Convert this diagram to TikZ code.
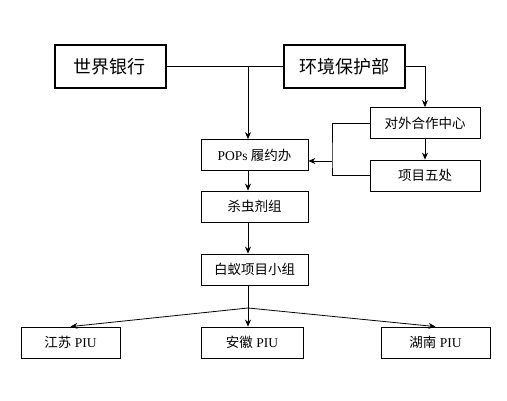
\documentclass[tikz,border=0pt]{standalone}
\usepackage{fontspec}
\setmainfont{Liberation Serif}
\newfontfamily\cjk{Noto Sans CJK SC}
\usetikzlibrary{arrows.meta}

\begin{document}
\begin{tikzpicture}[x=1pt,y=-1pt,>={Stealth[length=7pt,width=6pt]},line width=0.8pt,
  bigbox/.style={draw,line width=2pt,minimum height=43pt,inner sep=0pt,font=\fontsize{18}{20}\selectfont},
  unit/.style={draw,line width=0.8pt,minimum height=31pt,inner sep=0pt,font=\fontsize{13.5}{15}\selectfont}]
  \useasboundingbox (0,0) rectangle (507,401);

  % 顶层
  \node[bigbox,minimum width=111pt] (wb) at (110,66.5) {\cjk 世界银行};
  \node[bigbox,minimum width=121pt] (env) at (344,66.5) {\cjk 环境保护部};

  % 右侧两个单位
  \node[unit,minimum width=110pt] (coop) at (425,123) {\cjk 对外合作中心};
  \node[unit,minimum width=110pt] (proj) at (425,175.5) {\cjk 项目五处};

  % 中间一列
  \node[unit,minimum width=107pt] (pops) at (254.5,155) {POPs {\cjk 履约办}};
  \node[unit,minimum width=107pt] (pest) at (254.5,206.5) {\cjk 杀虫剂组};
  \node[unit,minimum width=107pt] (termite) at (254.5,269.5) {\cjk 白蚁项目小组};

  % 三个省
  \node[unit,minimum width=99pt] (js) at (70.5,342.5) {{\cjk 江苏} PIU};
  \node[unit,minimum width=102pt] (ah) at (252,342.5) {{\cjk 安徽} PIU};
  \node[unit,minimum width=109pt] (hn) at (435.5,342.5) {{\cjk 湖南} PIU};

  \coordinate (top) at (248,66.5);
  \coordinate (brk) at (332,161);
  \coordinate (fan) at (248,308);

  \draw (wb.east) -- (env.west);
  \draw[->] (top) -- (top |- pops.north);
  \draw[->] (env.east) -| (coop.north);
  \draw[->] (coop) -- (proj);
  \draw (coop.west) -| (brk) |- (proj.west);
  \draw[->] (brk) -- (pops.east |- brk);
  \draw[->] (pops.south -| top) -- (pest.north -| top);
  \draw[->] (pest.south -| top) -- (termite.north -| top);
  \draw (termite.south -| top) -- (fan);
  \draw[->] (fan) -- (js.north);
  \draw[->] (fan) -- (ah.north -| fan);
  \draw[->] (fan) -- (hn.north);
\end{tikzpicture}
\end{document}
